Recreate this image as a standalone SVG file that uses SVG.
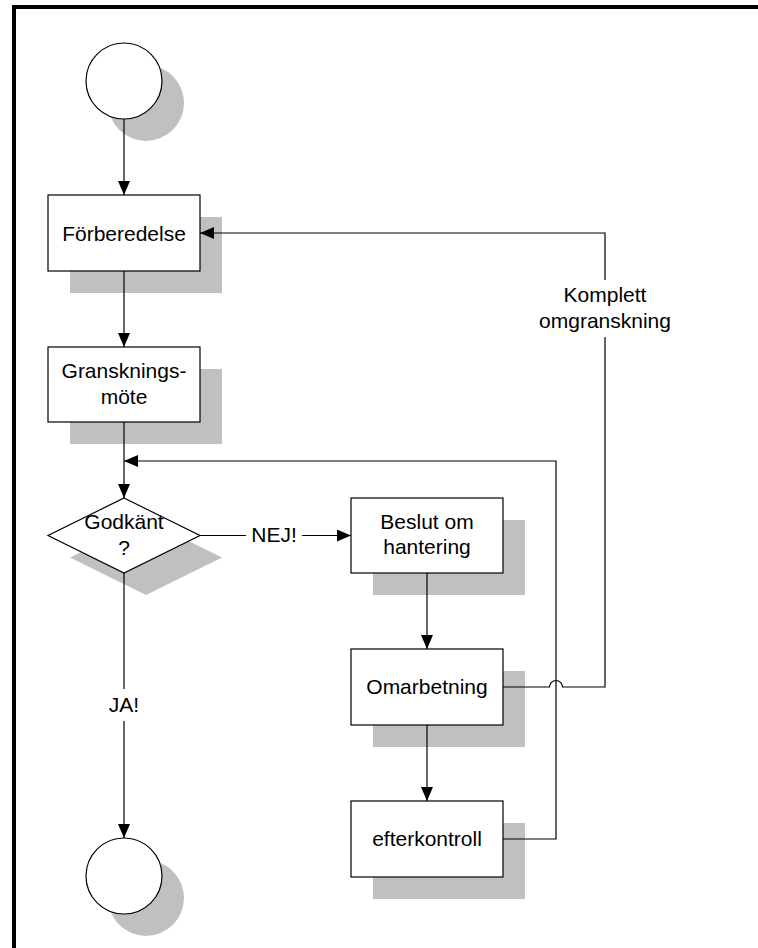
<svg xmlns="http://www.w3.org/2000/svg" width="758" height="948" viewBox="0 0 758 948">
  <style>
    .shadow { fill: #c0c0c0; stroke: none; }
    .shape { fill: #ffffff; stroke: #000000; stroke-width: 1.2; }
    .line { fill: none; stroke: #000000; stroke-width: 1.2; }
    .label { font-family: "Liberation Sans", Arial, sans-serif; font-size: 21px; fill: #000000; text-anchor: middle; }
  </style>
  <defs>
    <marker id="arrow" markerUnits="userSpaceOnUse" markerWidth="14" markerHeight="12" refX="14" refY="6" orient="auto">
      <path d="M0,0 L14,6 L0,12 Z" fill="#000000"/>
    </marker>
  </defs>

  <rect width="758" height="948" fill="#ffffff"/>
  <!-- frame -->
  <rect x="12" y="5" width="746" height="4" fill="#000000"/>
  <rect x="12" y="5" width="4" height="943" fill="#000000"/>

  <!-- start -->
  <g id="start">
    <circle class="shadow" cx="146" cy="103" r="38"/>
    <circle class="shape" cx="124" cy="81" r="38"/>
  </g>

  <g id="forberedelse">
    <rect class="shadow" x="70" y="217" width="152" height="76"/>
    <rect class="shape" x="48" y="195" width="152" height="76"/>
    <text class="label" x="124" y="240.5">Förberedelse</text>
  </g>

  <g id="granskningsmote">
    <rect class="shadow" x="70" y="369" width="152" height="75"/>
    <rect class="shape" x="48" y="347" width="152" height="75"/>
    <text class="label" x="124" y="378">Gransknings-</text>
    <text class="label" x="124" y="404">möte</text>
  </g>

  <g id="godkant">
    <polygon class="shadow" points="146,520 222,557.5 146,595 70,557.5"/>
    <polygon class="shape" points="124,498 200,535.5 124,573 48,535.5"/>
    <text class="label" x="124" y="529">Godkänt</text>
    <text class="label" x="124" y="555">?</text>
  </g>

  <g id="beslut">
    <rect class="shadow" x="373" y="520" width="152" height="75"/>
    <rect class="shape" x="351" y="498" width="152" height="75"/>
    <text class="label" x="427" y="528.5">Beslut om</text>
    <text class="label" x="427" y="553.5">hantering</text>
  </g>

  <g id="omarbetning">
    <rect class="shadow" x="373" y="671" width="152" height="76"/>
    <rect class="shape" x="351" y="649" width="152" height="76"/>
    <text class="label" x="427" y="694">Omarbetning</text>
  </g>

  <g id="efterkontroll">
    <rect class="shadow" x="373" y="823" width="152" height="76"/>
    <rect class="shape" x="351" y="801" width="152" height="76"/>
    <text class="label" x="427" y="846">efterkontroll</text>
  </g>

  <g id="end">
    <circle class="shadow" cx="146" cy="898" r="38"/>
    <circle class="shape" cx="124" cy="876" r="38"/>
  </g>

  <!-- connectors, drawn over the shadows -->
  <g id="connectors">
    <line class="line" x1="124" y1="119" x2="124" y2="195" marker-end="url(#arrow)"/>
    <line class="line" x1="124" y1="271" x2="124" y2="347" marker-end="url(#arrow)"/>
    <line class="line" x1="124" y1="422" x2="124" y2="498" marker-end="url(#arrow)"/>
    <!-- NEJ -->
    <line class="line" x1="200" y1="535.5" x2="246" y2="535.5"/>
    <text class="label" x="274" y="542">NEJ!</text>
    <line class="line" x1="302" y1="535.5" x2="351" y2="535.5" marker-end="url(#arrow)"/>
    <line class="line" x1="427" y1="573" x2="427" y2="649" marker-end="url(#arrow)"/>
    <line class="line" x1="427" y1="725" x2="427" y2="801" marker-end="url(#arrow)"/>
    <!-- JA -->
    <line class="line" x1="124" y1="573" x2="124" y2="689"/>
    <text class="label" x="124" y="712">JA!</text>
    <line class="line" x1="124" y1="721" x2="124" y2="838" marker-end="url(#arrow)"/>
    <!-- back from efterkontroll -->
    <path class="line" d="M503,839 H556 V461 H124" marker-end="url(#arrow)"/>
    <!-- back from Omarbetning to Förberedelse -->
    <path class="line" d="M503,687 H549.5 A6.5,6.5 0 0 1 562.5,687 H605 V337"/>
    <path class="line" d="M605,280 V233 H200" marker-end="url(#arrow)"/>
    <text class="label" x="605" y="302">Komplett</text>
    <text class="label" x="605" y="328">omgranskning</text>
  </g>
</svg>
